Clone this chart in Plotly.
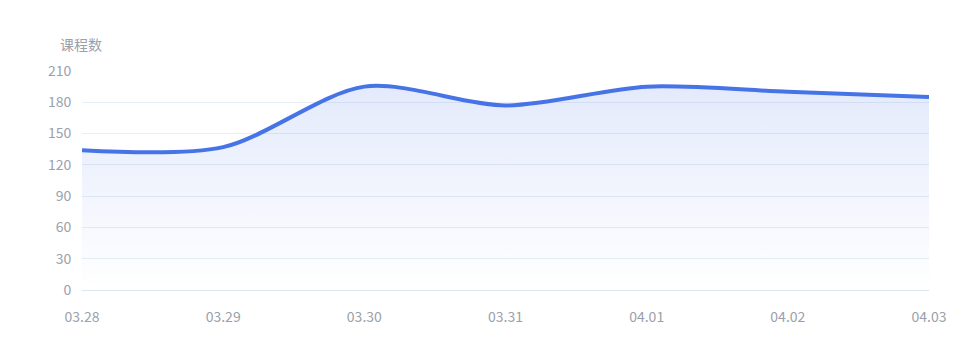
import plotly.graph_objects as go

dates = ["03.28", "03.29", "03.30", "03.31", "04.01", "04.02", "04.03"]
courses = [134, 137, 195, 177, 195, 190, 185]
y_ticks = [0, 30, 60, 90, 120, 150, 180, 210]

fig = go.Figure()
fig.add_trace(go.Scatter(
    x=dates, y=courses, mode="lines",
    line=dict(color="#4673E6", width=4, shape="spline", smoothing=0.85),
    fill="tozeroy",
    fillgradient=dict(type="vertical",
                      colorscale=[[0, "rgba(70,115,230,0.0)"], [1, "rgba(70,115,230,0.15)"]]),
    hoverinfo="skip",
))

font = "Microsoft YaHei, Noto Sans CJK SC, sans-serif"
fig.update_layout(
    width=978, height=360,
    margin=dict(l=82, r=49, t=71, b=70),
    paper_bgcolor="white", plot_bgcolor="white",
    showlegend=False,
    font=dict(family=font, size=14, color="#9AA1AB"),
    xaxis=dict(
        type="category", range=[0, 6], showgrid=False,
        showline=True, linecolor="#DDE5EE", linewidth=1,
        ticks="outside", ticklen=14, tickcolor="rgba(0,0,0,0)",
        tickfont=dict(size=14, color="#9AA1AB"),
        zeroline=False,
    ),
    yaxis=dict(
        range=[0, 210], tickvals=y_ticks,
        showgrid=True, gridcolor="#E8EEF5", gridwidth=1,
        zeroline=False, showline=False,
        ticks="outside", ticklen=7, tickcolor="rgba(0,0,0,0)",
        tickfont=dict(size=14, color="#9AA1AB"),
    ),
    annotations=[dict(
        text="课程数", xref="paper", yref="paper", x=-0.001, y=1.07,
        xanchor="center", yanchor="bottom", showarrow=False,
        font=dict(size=14, color="#9AA1AB", family=font),
    )],
)

fig.write_html("out.html")
